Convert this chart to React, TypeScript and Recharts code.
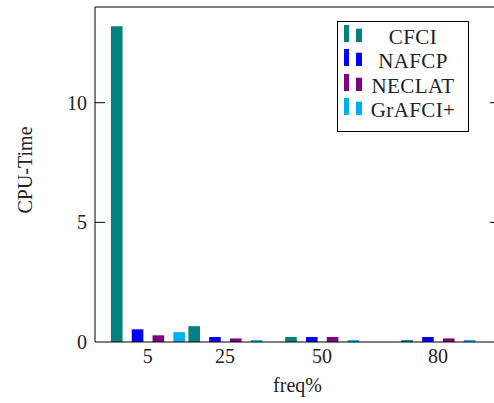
import React from 'react';
import { ComposedChart, Bar, XAxis, YAxis, Legend, ReferenceLine, Label } from 'recharts';

const FONT = "'Liberation Serif', 'Times New Roman', serif";

const freqs = [5, 25, 50, 80];
const cfci = [13.2, 0.66, 0.21, 0.08];
const nafcp = [0.53, 0.21, 0.21, 0.21];
const neclat = [0.28, 0.15, 0.21, 0.15];
const grafci = [0.41, 0.08, 0.08, 0.08];
const seriesNames = ['CFCI', 'NAFCP', 'NECLAT', 'GrAFCI+'];
const seriesColors = ['#008080', '#0000ff', '#800080', '#00aeef'];
const seriesKeys = ['s0', 's1', 's2', 's3'];
const yTicks = [0, 5, 10];
const yRightTicks = [5, 10];

const data = freqs.map((f, i) => ({
  freq: f,
  s0: cfci[i],
  s1: nafcp[i],
  s2: neclat[i],
  s3: grafci[i],
}));

const LeftTick = (props: any) => {
  const { x, y, payload } = props;
  return (
    <g>
      <text x={x} y={y} dy="0.34em" textAnchor="end" fontSize={20} fontFamily={FONT} fill="#222">
        {payload.value}
      </text>
      {payload.value !== 0 && <line x1={x + 8} x2={x + 18} y1={y} y2={y} stroke="#000" strokeWidth={1} />}
    </g>
  );
};

const RightTick = (props: any) => {
  const { x, y } = props;
  return (
    <g>
      <line x1={x - 10} x2={x} y1={y} y2={y} stroke="#000" strokeWidth={1} />
    </g>
  );
};

const LegendBox = () => (
  <div
    style={{
      boxSizing: 'border-box',
      width: 132,
      height: 111,
      border: '1px solid #000',
      background: '#fff',
      paddingTop: 3,
      fontFamily: FONT,
    }}
  >
    {seriesNames.map((n, i) => (
      <div key={n} style={{ position: 'relative', height: 24.4 }}>
        <svg width={30} height={25} style={{ position: 'absolute', left: 0, top: 0 }}>
          <rect x={6} y={12.2 - 12.5} width={5} height={17.3} fill={seriesColors[i]} />
          <rect x={18} y={12.2 - 8.5} width={6} height={13.3} fill={seriesColors[i]} />
        </svg>
        <div
          style={{
            position: 'absolute',
            left: 0,
            width: 150,
            top: 0,
            textAlign: 'center',
            lineHeight: '24.4px',
            fontSize: 21,
            fontFamily: FONT,
            letterSpacing: 0.4,
            color: '#222',
            whiteSpace: 'nowrap',
          }}
        >
          {n}
        </div>
      </div>
    ))}
  </div>
);

const YLabel = (p: any) => {
  const vb = p.viewBox;
  const cx = vb.x + 31.5;
  const cy = vb.y + vb.height / 2 - 4.5;
  return (
    <text
      x={cx}
      y={cy}
      transform={`rotate(-90 ${cx} ${cy})`}
      textAnchor="middle"
      fontSize={20}
      fontFamily={FONT}
      fill="#222"
    >
      CPU-Time
    </text>
  );
};

export default function App() {
  return (
    <div style={{ position: 'absolute', left: 0, top: 0, width: 494, height: 403, overflow: 'hidden', background: '#fff' }}>
      <ComposedChart
        width={501}
        height={403}
        data={data}
        margin={{ top: 7, right: 0, bottom: 0, left: 0 }}
        barGap={9.2}
      >
        <XAxis
          dataKey="freq"
          type="number"
          domain={[-8.6, 96]}
          ticks={freqs}
          interval={0}
          allowDataOverflow
          tickLine={false}
          tickSize={0}
          tickMargin={7}
          height={61}
          axisLine={{ stroke: '#000', strokeWidth: 1 }}
          tick={{ fontSize: 20, fontFamily: FONT, fill: '#222' }}
        >
          <Label value="freq%" position="insideBottom" offset={11} fontSize={20} fontFamily={FONT} fill="#222" />
        </XAxis>
        <YAxis
          type="number"
          domain={[0, 14]}
          ticks={yTicks}
          interval={0}
          allowDataOverflow
          width={95}
          tickLine={false}
          tickSize={0}
          tickMargin={8}
          axisLine={{ stroke: '#000', strokeWidth: 1 }}
          tick={<LeftTick />}
        >
          <Label content={YLabel} />
        </YAxis>
        <YAxis
          yAxisId="r"
          orientation="right"
          type="number"
          domain={[0, 14]}
          ticks={yRightTicks}
          interval={0}
          allowDataOverflow
          width={1}
          tickLine={false}
          tickSize={0}
          tickMargin={0}
          axisLine={{ stroke: '#000', strokeWidth: 1 }}
          tick={<RightTick />}
        />
        <ReferenceLine y={14} stroke="#000" strokeWidth={1} ifOverflow="visible" />
        {seriesKeys.map((k, i) => (
          <Bar
            key={k}
            dataKey={k}
            name={seriesNames[i]}
            fill={seriesColors[i]}
            barSize={11.6}
            isAnimationActive={false}
          />
        ))}
        <Legend
          layout="vertical"
          align="center"
          verticalAlign="middle"
          content={<LegendBox />}
          wrapperStyle={{ position: 'absolute', left: 337, top: 21, width: 132, height: 111, fontFamily: FONT }}
        />
      </ComposedChart>
    </div>
  );
}
